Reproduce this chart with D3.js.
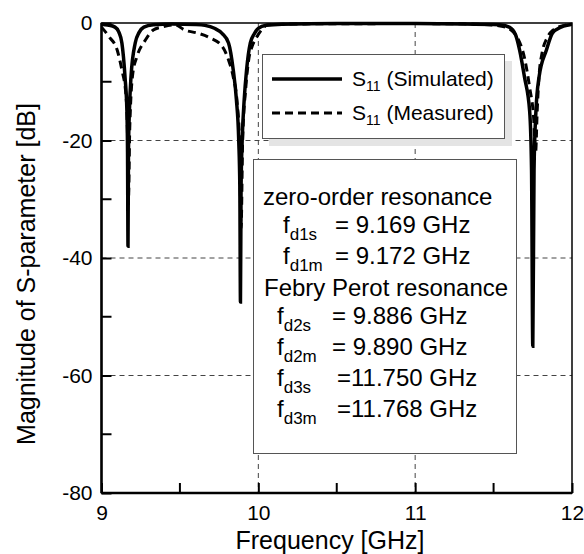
<!DOCTYPE html>
<html><head><meta charset="utf-8">
<script src="https://cdn.jsdelivr.net/npm/d3@7"></script>
<style>
html,body{margin:0;padding:0;background:#fff;}
svg{display:block;font-family:Arial,"Liberation Sans",sans-serif;}
</style></head>
<body>
<svg id="chart" width="584" height="554"></svg>
<script>
// ---- data ----
const simFreq = [9.000,9.040,9.086,9.110,9.130,9.150,9.162,9.166,9.169,9.172,9.178,9.188,9.215,9.240,9.270,9.330,9.450,9.600,9.660,9.720,9.770,9.810,9.840,9.860,9.875,9.882,9.886,9.890,9.897,9.910,9.925,9.949,9.975,10.000,10.050,10.150,10.500,11.000,11.300,11.540,11.600,11.640,11.666,11.697,11.730,11.742,11.750,11.758,11.770,11.790,11.837,11.876,11.930,11.985,12.000];
const simDb   = [-0.2,-0.35,-0.7,-1.5,-3.4,-9.2,-15,-22,-38,-22,-15,-9.2,-3.4,-1.6,-0.7,-0.3,-0.15,-0.25,-0.4,-0.9,-1.8,-3.4,-8,-13,-20,-28,-47.5,-28,-20,-13,-8,-3.4,-1.8,-0.9,-0.4,-0.2,-0.1,-0.1,-0.15,-0.3,-0.7,-2.0,-4.6,-9.2,-15,-25,-55,-25,-15,-9.2,-4.6,-1.7,-0.7,-0.3,-0.2];
const measFreq = [9.000,9.050,9.100,9.130,9.155,9.165,9.172,9.180,9.200,9.225,9.280,9.330,9.385,9.470,9.530,9.610,9.690,9.770,9.810,9.840,9.865,9.880,9.890,9.900,9.920,9.940,9.960,9.990,10.020,10.060,10.300,11.000,11.400,11.560,11.620,11.650,11.700,11.730,11.755,11.768,11.778,11.790,11.810,11.840,11.880,11.950,12.000];
const measDb   = [-0.7,-2.4,-4.6,-8,-12,-18,-30,-18,-8.5,-5.8,-2.9,-1.2,-0.7,-0.3,-1.2,-1.7,-2.5,-4,-6.3,-9.2,-13.6,-20,-35,-20,-11,-6,-4,-2.4,-1.2,-0.3,-0.15,-0.1,-0.2,-0.6,-1.4,-2.4,-6.3,-11,-16,-22,-15,-9,-5,-2.6,-1.2,-0.4,-0.2];
const xTicks = [9,10,11,12];
const xMinor = [9.5,10.5,11.5];
const yTicks = [0,-20,-40,-60,-80];
const yMinor = [-10,-30,-50,-70];
const xGrid = [10,11];
const yGrid = [-20,-40,-60];
const seriesNames = ["S", "11", " (Simulated)", " (Measured)"];
const xTitle = "Frequency [GHz]";
const yTitle = "Magnitude of S-parameter [dB]";
const noteLines = [
  {main:"zero-order resonance"},
  {f:"f", sub:"d1s", val:"= 9.169 GHz"},
  {f:"f", sub:"d1m", val:"= 9.172 GHz"},
  {main:"Febry Perot resonance"},
  {f:"f", sub:"d2s", val:"= 9.886 GHz"},
  {f:"f", sub:"d2m", val:"= 9.890 GHz"},
  {f:"f", sub:"d3s", val:"=11.750 GHz"},
  {f:"f", sub:"d3m", val:"=11.768 GHz"}
];

// ---- layout ----
const svg = d3.select("#chart");
const FONT = "Arial, 'Liberation Sans', sans-serif";
const L = 101.5, R = 572, T = 23, B = 493;
const x = d3.scaleLinear().domain([9,12]).range([L,R]);
const y = d3.scaleLinear().domain([-80,0]).range([B,T]);

// grid
const g = svg.append("g");
g.selectAll(".vg").data(xGrid).enter().append("line")
  .attr("x1",d=>x(d)).attr("x2",d=>x(d)).attr("y1",T).attr("y2",B)
  .attr("stroke","#444").attr("stroke-width",1).attr("stroke-dasharray","5,4");
g.selectAll(".hg").data(yGrid).enter().append("line")
  .attr("x1",L).attr("x2",R).attr("y1",d=>y(d)).attr("y2",d=>y(d))
  .attr("stroke","#444").attr("stroke-width",1).attr("stroke-dasharray","5,4");

// legend box with shadow
const lg = svg.append("g");
lg.append("rect").attr("x",269).attr("y",61).attr("width",243).attr("height",85).attr("fill","#e4e4e4");
lg.append("rect").attr("x",262.5).attr("y",54.5).attr("width",242).attr("height",84).attr("fill","#fff").attr("stroke","#555").attr("stroke-width",1);

// note box
svg.append("rect").attr("x",253.5).attr("y",159.5).attr("width",263).attr("height",294).attr("fill","#fff").attr("stroke","#555").attr("stroke-width",1);

// curves
const line = d3.line().x(d=>x(d[0])).y(d=>y(d[1])).curve(d3.curveMonotoneX);
const simPts = simFreq.map((f,i)=>[f,simDb[i]]);
const measPts = measFreq.map((f,i)=>[f,measDb[i]]);
svg.append("clipPath").attr("id","clp").append("rect").attr("x",L).attr("y",T-2).attr("width",R-L).attr("height",B-T+2);
svg.append("path").datum(measPts).attr("d",line).attr("fill","none").attr("stroke","#000")
  .attr("stroke-width",3).attr("stroke-dasharray","8,5").attr("clip-path","url(#clp)");
svg.append("path").datum(simPts).attr("d",line).attr("fill","none").attr("stroke","#000")
  .attr("stroke-width",3.5).attr("clip-path","url(#clp)");

// frame
svg.append("rect").attr("x",L).attr("y",T).attr("width",R-L).attr("height",B-T)
  .attr("fill","none").attr("stroke","#000").attr("stroke-width",1.5);
svg.append("line").attr("x1",L).attr("x2",L).attr("y1",T).attr("y2",B).attr("stroke","#000").attr("stroke-width",2.5);
svg.append("line").attr("x1",L).attr("x2",R).attr("y1",B).attr("y2",B).attr("stroke","#000").attr("stroke-width",2.5);

// axes with inner ticks
const fmt = d => String(d);
const xAxis = d3.axisBottom(x).tickValues(xTicks).tickSize(-10).tickPadding(12).tickFormat(fmt);
const gx = svg.append("g").attr("transform",`translate(0,${B})`).call(xAxis);
gx.select(".domain").remove();
gx.selectAll(".tick line").attr("stroke-width",2);
gx.selectAll("text").attr("font-size",21).attr("font-family",FONT).attr("fill","#000");
svg.append("g").selectAll("line").data(xMinor).enter().append("line")
  .attr("x1",d=>x(d)).attr("x2",d=>x(d)).attr("y1",B).attr("y2",B-10).attr("stroke","#000").attr("stroke-width",2);

const yAxis = d3.axisLeft(y).tickValues(yTicks).tickSize(-10).tickPadding(9).tickFormat(fmt);
const gy = svg.append("g").attr("transform",`translate(${L},0)`).call(yAxis);
gy.select(".domain").remove();
gy.selectAll(".tick line").attr("stroke-width",2);
gy.selectAll("text").attr("font-size",21).attr("font-family",FONT).attr("fill","#000");
svg.append("g").selectAll("line").data(yMinor).enter().append("line")
  .attr("x1",L).attr("x2",L+10).attr("y1",d=>y(d)).attr("y2",d=>y(d)).attr("stroke","#000").attr("stroke-width",2);

// titles
svg.append("text").attr("x",330).attr("y",549).attr("text-anchor","middle").attr("font-size",25).text(xTitle);
svg.append("text").attr("transform","translate(35,274) rotate(-90)").attr("text-anchor","middle").attr("font-size",25).text(yTitle);

// legend entries
const legRows = [{dash:null, label:seriesNames[2], yy:79},{dash:"8,5", label:seriesNames[3], yy:113}];
legRows.forEach(r=>{
  lg.append("line").attr("x1",272).attr("x2",342).attr("y1",r.yy).attr("y2",r.yy)
    .attr("stroke","#000").attr("stroke-width",r.dash?3:3.5).attr("stroke-dasharray",r.dash);
  const t = lg.append("text").attr("x",352).attr("y",r.yy+7).attr("font-size",21).attr("fill","#000");
  t.append("tspan").text(seriesNames[0]);
  t.append("tspan").attr("font-size",14).attr("dy",5).text(seriesNames[1]);
  t.append("tspan").attr("dy",-5).text(r.label);
});

// note text
const noteBase = [205,233,264,296,324,355,386,417];
const fX = [263,283,283,264,277,277,277,277];
const valX = [0,335,335,0,332,332,337,337];
noteLines.forEach((ln,i)=>{
  const t = svg.append("text").attr("x",fX[i]).attr("y",noteBase[i]).attr("font-size",24).attr("fill","#000");
  if(ln.main){ t.text(ln.main); return; }
  t.append("tspan").text(ln.f);
  t.append("tspan").attr("font-size",17).attr("dy",7).text(ln.sub);
  svg.append("text").attr("x",valX[i]).attr("y",noteBase[i]).attr("font-size",24).attr("fill","#000").text(ln.val);
});
</script>
</body></html>
